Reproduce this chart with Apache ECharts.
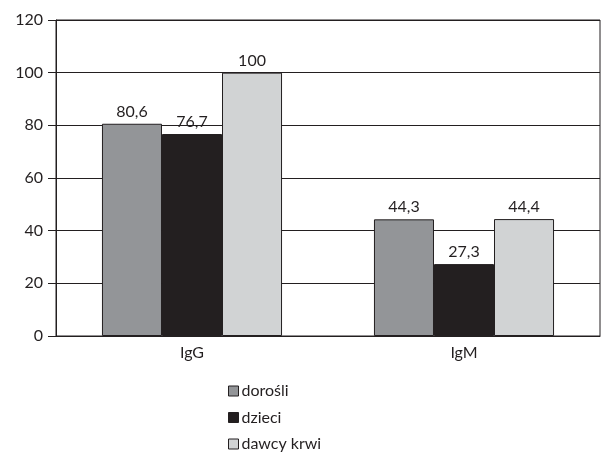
<!DOCTYPE html>
<html>
<head>
<meta charset="utf-8">
<script src="https://cdn.jsdelivr.net/npm/echarts@6/dist/echarts.min.js"></script>
<style>html,body{margin:0;padding:0;background:#fff}#c{width:607px;height:461px}</style>
</head>
<body>
<div id="c"></div>
<script>
const categories = ['IgG', 'IgM'];
const seriesNames = ['dorośli', 'dzieci', 'dawcy krwi'];
const dorosli = [80.6, 44.3];
const dzieci = [76.7, 27.3];
const dawcyKrwi = [100, 44.4];
const yTicks = [0, 20, 40, 60, 80, 100, 120];

const colors = ['#939598', '#231f20', '#d1d3d4'];
const font = 'Lato';
const chart = echarts.init(document.getElementById('c'), null, {renderer: 'canvas'});
const values = [dorosli, dzieci, dawcyKrwi];
chart.setOption({
  animation: false,
  textStyle: {fontFamily: font},
  grid: {left: 56, right: 7, top: 20, bottom: 125, show: true, borderColor: '#231f20', borderWidth: 1},
  legend: {
    orient: 'vertical', left: 223, top: 378,
    itemWidth: 10, itemHeight: 10, itemGap: 10.5,
    icon: 'rect',
    textStyle: {fontSize: 16, color: '#231f20', fontFamily: font, lineHeight: 16, padding: [0, 0, 0, -2]},
    data: seriesNames.map((n, i) => ({name: n, itemStyle: {color: colors[i], borderColor: '#231f20', borderWidth: 1}}))
  },
  xAxis: {
    type: 'category', data: categories,
    axisLine: {lineStyle: {color: '#231f20', width: 1}},
    axisTick: {show: false},
    axisLabel: {fontSize: 16, color: '#231f20', margin: 9, fontFamily: font}
  },
  yAxis: {
    type: 'value', min: yTicks[0], max: yTicks[yTicks.length - 1], interval: 20,
    axisLine: {show: true, lineStyle: {color: '#231f20', width: 1}},
    axisTick: {show: true, length: 8, lineStyle: {color: '#231f20'}},
    axisLabel: {fontSize: 16, color: '#231f20', margin: 13, fontFamily: font},
    splitLine: {show: true, lineStyle: {color: '#231f20', width: 1}}
  },
  series: values.map((v, i) => ({
    name: seriesNames[i], type: 'bar', data: v,
    barGap: '0%', barCategoryGap: '33.8%',
    itemStyle: {color: colors[i], borderColor: '#231f20', borderWidth: 1},
    label: {show: true, position: 'top', distance: 4, fontSize: 16, color: '#231f20', fontFamily: font,
      formatter: p => String(p.value).replace('.', ',')}
  }))
});
</script>
</body>
</html>
